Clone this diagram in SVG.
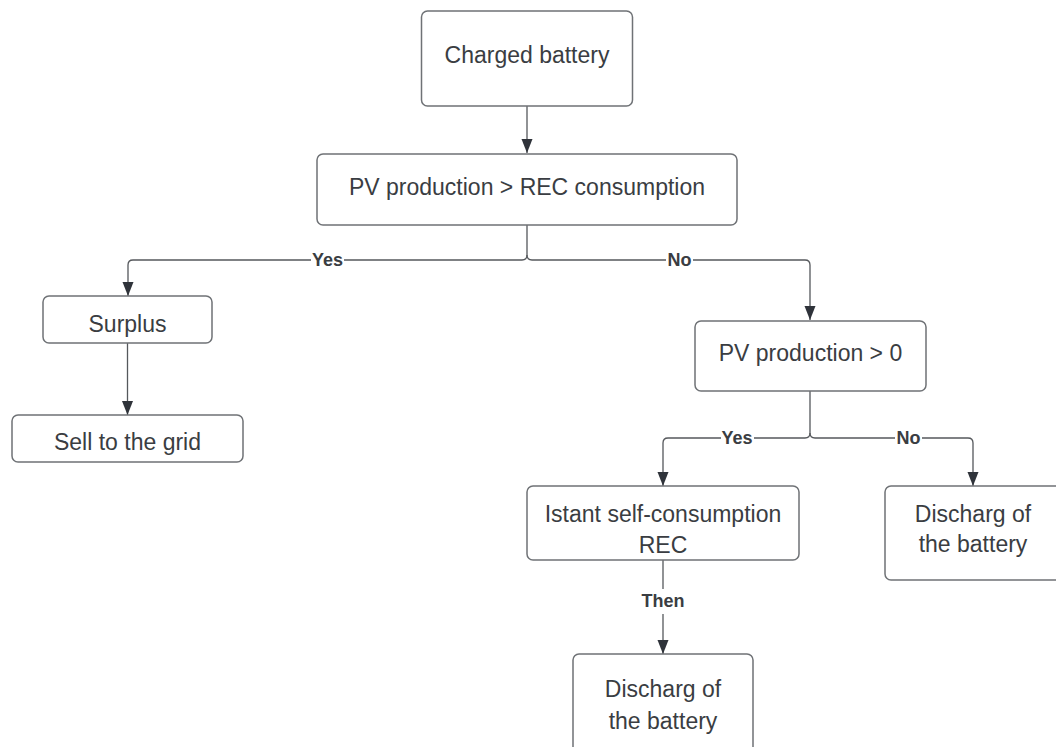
<svg xmlns="http://www.w3.org/2000/svg" width="1056" height="747" viewBox="0 0 1056 747">
<style>
.box{fill:#ffffff;stroke:#6f7276;stroke-width:1.5}
.t{font-family:"Liberation Sans",Arial,sans-serif;font-size:23px;fill:#3a3d42;text-anchor:middle}
.c{fill:none;stroke:#55585c;stroke-width:1.3}
.lbl{font-family:"Liberation Sans",Arial,sans-serif;font-size:18px;font-weight:bold;fill:#3a3d42;text-anchor:middle}
.bg{fill:#ffffff}
</style>
<defs>
<marker id="ah" markerUnits="userSpaceOnUse" markerWidth="14" markerHeight="12" refX="14" refY="5.5" orient="auto">
<path d="M0,0 L14,5.5 L0,11 z" fill="#2f333a"/>
</marker>
</defs>
<rect width="1056" height="747" fill="#ffffff"/>
<g id="connectors">
<path class="c" d="M527 106 V153" marker-end="url(#ah)"/>
<path class="c" d="M527 225 V255 Q527 260 522 260 H133 Q128 260 128 265 V296" marker-end="url(#ah)"/>
<path class="c" d="M527 255 Q527 260 532 260 H805 Q810 260 810 265 V320" marker-end="url(#ah)"/>
<path class="c" d="M127.5 343 V415" marker-end="url(#ah)"/>
<path class="c" d="M810 391 V433 Q810 438 805 438 H668 Q663 438 663 443 V486" marker-end="url(#ah)"/>
<path class="c" d="M810 433 Q810 438 815 438 H968 Q973 438 973 443 V486" marker-end="url(#ah)"/>
<path class="c" d="M663 560 V654" marker-end="url(#ah)"/>
<rect class="bg" x="311" y="250" width="33" height="20"/>
<text class="lbl" x="327.5" y="266">Yes</text>
<rect class="bg" x="666" y="250" width="27" height="20"/>
<text class="lbl" x="679.5" y="266">No</text>
<rect class="bg" x="721" y="428" width="33" height="20"/>
<text class="lbl" x="737" y="444">Yes</text>
<rect class="bg" x="895" y="428" width="27" height="20"/>
<text class="lbl" x="908.5" y="444">No</text>
<rect class="bg" x="630" y="589" width="66" height="25"/>
<text class="lbl" x="663" y="607">Then</text>
</g>
<g id="charged">
<rect class="box" x="421.5" y="11" width="211" height="95" rx="6"/>
<text class="t" x="527" y="63">Charged battery</text>
</g>
<g id="pv-rec">
<rect class="box" x="317" y="154" width="420" height="71" rx="6"/>
<text class="t" x="527" y="195">PV production &gt; REC consumption</text>
</g>
<g id="surplus">
<rect class="box" x="43" y="296" width="169" height="47" rx="6"/>
<text class="t" x="127.5" y="332">Surplus</text>
</g>
<g id="sell">
<rect class="box" x="12" y="415" width="231" height="47" rx="6"/>
<text class="t" x="127.5" y="450">Sell to the grid</text>
</g>
<g id="pv-zero">
<rect class="box" x="695" y="321" width="231" height="70" rx="6"/>
<text class="t" x="810.5" y="361">PV production &gt; 0</text>
</g>
<g id="istant">
<rect class="box" x="527" y="486" width="272" height="74" rx="6"/>
<text class="t" x="663" y="522">Istant self-consumption</text>
<text class="t" x="663" y="553">REC</text>
</g>
<g id="discharge-right">
<rect class="box" x="885" y="486" width="176" height="94" rx="6"/>
<text class="t" x="973" y="522">Discharg of</text>
<text class="t" x="973" y="552">the battery</text>
</g>
<g id="discharge-bottom">
<rect class="box" x="573" y="654" width="180" height="110" rx="6"/>
<text class="t" x="663" y="697">Discharg of</text>
<text class="t" x="663" y="729">the battery</text>
</g>
</svg>
